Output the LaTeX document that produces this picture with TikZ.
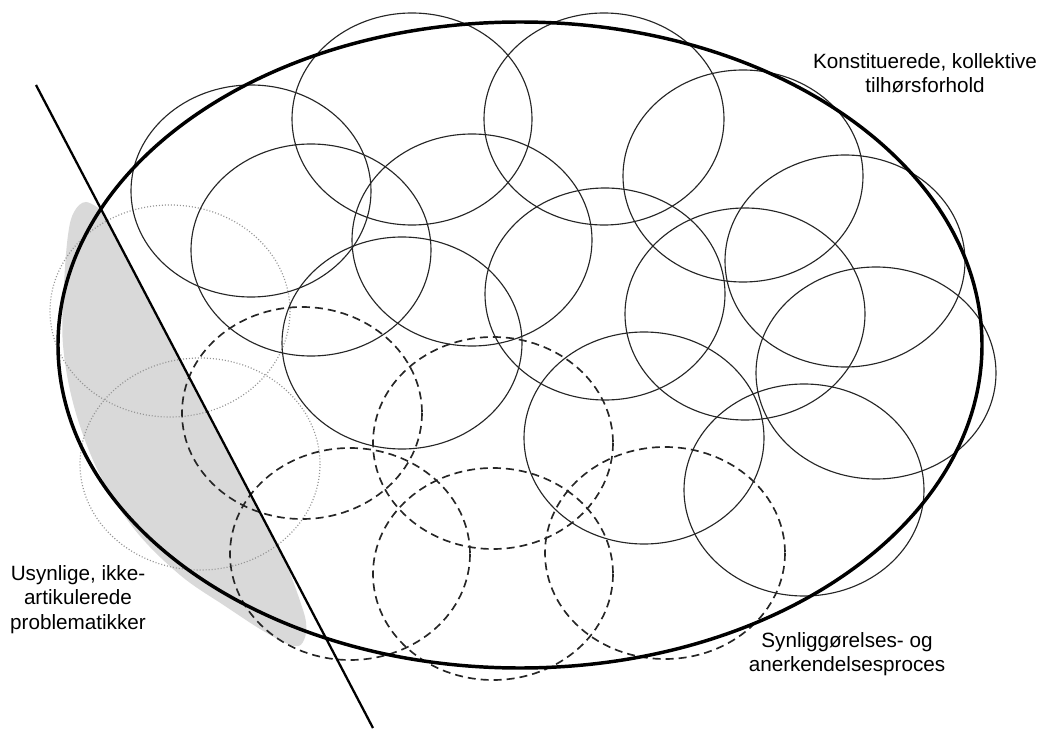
\documentclass[tikz,border=0pt]{standalone}
\usepackage{fontspec}
\setmainfont{Liberation Sans}
\begin{document}
\begin{tikzpicture}[x=0.75pt,y=-0.75pt,
  ring/.style={x radius=120, y radius=106},
  thinc/.style={draw=black!85, line width=0.85pt},
  dashc/.style={draw=black!85, line width=1.25pt, dash pattern=on 6pt off 3.75pt},
  dotc/.style={draw=black!42, line width=0.9pt, dash pattern=on 0.75pt off 1.5pt},
  bigc/.style={draw=black, line width=2.6pt},
  cut/.style={draw=black, line width=1.7pt},
  greyfill/.style={fill=black!15},
  lab/.style={font=\fontsize{15.5}{18.5}\selectfont, align=center, anchor=north, inner sep=0pt}]
\useasboundingbox (0,0) rectangle (1043,731);

% grey invisible region
\fill[greyfill] (104,212) -- (287,565) -- plot[smooth, tension=0.6] coordinates {(287,565) (298,595) (306,622) (304,640) (294,646) (265,632) (225,606) (180,575) (135,530) (100,475) (75,410) (63,345) (64,285) (68,235) (74,212) (86,202) (104,212)} -- cycle;

% dotted (invisible) circles
\draw[dotc] (170,311) ellipse[ring];
\draw[dotc] (200,464) ellipse[ring];

% solid circles (constituted)
\draw[thinc] (251,191) ellipse[ring];
\draw[thinc] (412,119) ellipse[ring];
\draw[thinc] (604,119) ellipse[ring];
\draw[thinc] (743,176) ellipse[ring];
\draw[thinc] (845,261) ellipse[ring];
\draw[thinc] (311,250) ellipse[ring];
\draw[thinc] (472,240) ellipse[ring];
\draw[thinc] (605,294) ellipse[ring];
\draw[thinc] (745,314) ellipse[ring];
\draw[thinc] (876,373) ellipse[ring];
\draw[thinc] (402,343) ellipse[ring];
\draw[thinc] (644,438) ellipse[ring];
\draw[thinc] (804,490) ellipse[ring];

% dashed circles (process)
\draw[dashc] (302,413) ellipse[ring];
\draw[dashc] (493,443) ellipse[ring];
\draw[dashc] (350,554) ellipse[ring];
\draw[dashc] (493,574) ellipse[ring];
\draw[dashc] (665,553) ellipse[ring];

% big ellipse
\draw[bigc] (520,345) ellipse[x radius=462, y radius=323];

% cut line
\coordinate (cutA) at (36,85);
\coordinate (cutB) at (373,728);
\draw[cut] (cutA) -- (cutB);

% labels
\node[lab] (lblK) at (925,53) {Konstituerede, kollektive\\tilhørsforhold};
\node[lab] (lblS) at (847,632) {Synliggørelses- og\\anerkendelsesproces};
\node[lab] (lblU) at (78,565) {Usynlige, ikke-\\artikulerede\\problematikker};
\end{tikzpicture}
\end{document}
